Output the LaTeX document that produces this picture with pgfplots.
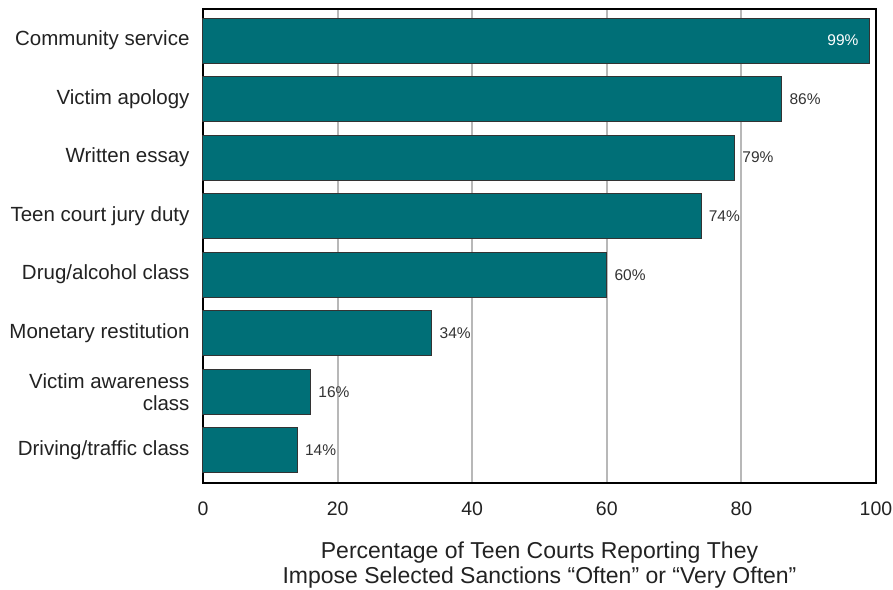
\documentclass[border=0pt]{standalone}
\usepackage{fontspec}
\setmainfont{Liberation Sans}
\usepackage{pgfplots}
\pgfplotsset{compat=1.18}
\definecolor{barteal}{HTML}{006F77}
\definecolor{txt}{HTML}{222222}
\begin{document}
\begin{tikzpicture}
  \begin{axis}[
    scale only axis,
    width=673bp, height=474bp,
    xbar, bar width=0.77, bar shift=0pt,
    xmin=0, xmax=100,
    ymin=-0.56, ymax=7.54,
    xtick={0,20,40,60,80,100},
    ytick={0,...,7},
    yticklabels={Driving/traffic class,{Victim awareness\\class},Monetary restitution,Drug/alcohol class,Teen court jury duty,Written essay,Victim apology,Community service},
    major tick length=0pt,
    xmajorgrids,
    major grid style={draw=black!28, line width=2bp},
    axis line style={line width=2.2bp, black},
    /pgf/number format/assume math mode=true,
    yticklabel style={font=\fontsize{20.5bp}{22bp}\selectfont, text=txt, align=right, xshift=-10bp},
    xticklabel style={font=\fontsize{19.5bp}{22bp}\selectfont, text=txt, yshift=-15bp},
    xlabel style={font=\fontsize{23bp}{25bp}\selectfont, text=txt, align=center, inner sep=0pt, yshift=-23bp},
    xlabel={Percentage of Teen Courts Reporting They\\Impose Selected Sanctions “Often” or “Very Often”},
    clip=false,
  ]
    \addplot[fill=barteal, draw=black!80, line width=1bp,
      nodes near coords={\pgfmathprintnumber{\pgfplotspointmeta}\%},
      point meta=x,
      every node near coord/.append style={font=\fontsize{15.5bp}{18bp}\selectfont, text=black!80, anchor=west, xshift=4bp}]
      coordinates {(14,0) (16,1) (34,2) (60,3) (74,4) (79,5) (86,6)};
    \addplot[fill=barteal, draw=black!80, line width=1bp,
      nodes near coords={\pgfmathprintnumber{\pgfplotspointmeta}\%},
      point meta=x,
      every node near coord/.append style={font=\fontsize{15.5bp}{18bp}\selectfont, text=white, anchor=east, xshift=-7bp}]
      coordinates {(99,7)};
    \coordinate (tl) at (rel axis cs:0,1);
    \coordinate (br) at (rel axis cs:1,0);
  \end{axis}
  \pgfresetboundingbox
  \path ([shift={(-203bp,9bp)}]tl) rectangle ([shift={(17bp,-107bp)}]br);
\end{tikzpicture}
\end{document}
